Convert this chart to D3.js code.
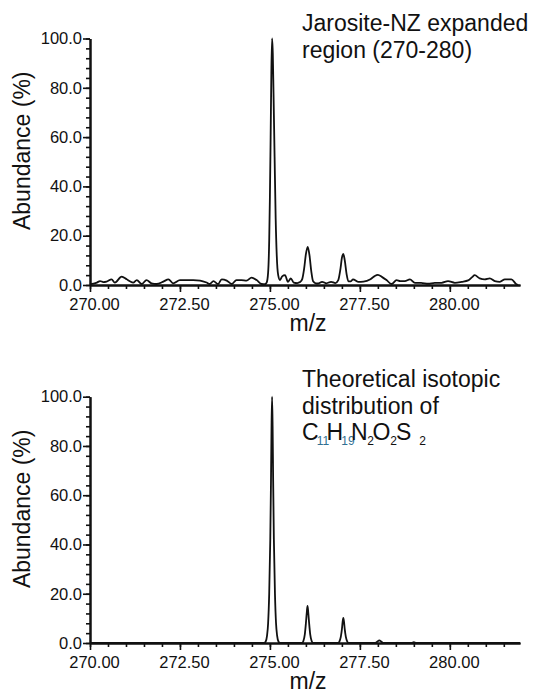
<!DOCTYPE html>
<html>
<head>
<meta charset="utf-8">
<script src="https://cdn.jsdelivr.net/npm/d3@7"></script>
<style>
  body { margin: 0; background: #fff; }
  text { font-family: "Liberation Sans", Arial, Helvetica, sans-serif; fill: #111; }
</style>
</head>
<body>
<div id="chart"></div>
<script>
// Measured spectrum (top panel)
const measuredMz = [
  270.00, 270.10, 270.19, 270.28, 270.37, 270.46, 270.60, 270.69, 270.88, 271.02,
  271.12, 271.20, 271.30, 271.44, 271.57, 271.71, 271.85, 272.04, 272.18, 272.31,
  272.50, 272.69, 272.87, 273.06, 273.24, 273.33, 273.43, 273.56, 273.66, 273.80,
  273.94, 274.07, 274.21, 274.35, 274.49, 274.63, 274.77, 274.86, 274.91, 274.95,
  274.98, 275.00, 275.02, 275.04, 275.06, 275.08, 275.10, 275.13, 275.16, 275.19,
  275.23, 275.28, 275.34, 275.42, 275.50, 275.58, 275.66, 275.76, 275.84, 275.90,
  275.95, 276.00, 276.05, 276.10, 276.15, 276.20, 276.27, 276.33, 276.45, 276.57,
  276.70, 276.82, 276.90, 276.96, 277.00, 277.04, 277.08, 277.13, 277.18, 277.25,
  277.31, 277.45, 277.60, 277.78, 277.90, 278.00, 278.12, 278.24, 278.38, 278.52,
  278.62, 278.75, 278.89, 279.03, 279.20, 279.40, 279.58, 279.77, 279.95, 280.14,
  280.33, 280.51, 280.62, 280.69, 280.83, 280.97, 281.11, 281.25, 281.39, 281.53,
  281.71, 281.85, 281.90
];
const measuredAbundance = [
  0.3, 0.6, 1.0, 1.6, 1.2, 1.4, 2.3, 1.0, 3.4, 2.3,
  1.4, 1.0, 2.0, 0.4, 2.0, 0.7, 0.4, 1.4, 2.3, 0.7,
  2.0, 2.0, 2.0, 1.8, 1.0, 0.4, 1.6, 0.4, 2.3, 1.8,
  0.4, 2.0, 2.0, 1.8, 3.0, 2.0, 0.4, 0.3, 1.0, 5.0,
  18, 36, 60, 86, 100, 94, 78, 52, 27, 12,
  4.0, 2.0, 3.5, 4.0, 1.3, 2.7, 1.0, 0.8, 1.2, 2.5,
  6.5, 12.5, 15.5, 12, 5.5, 1.5, 0.7, 0.6, 1.3, 0.7,
  1.3, 0.8, 2.0, 6.5, 11, 12.6, 10, 4.5, 1.5, 1.5,
  2.3, 1.3, 1.4, 2.2, 3.5, 4.1, 3.2, 2.0, 0.4, 2.0,
  1.6, 1.6, 2.3, 0.9, 0.9, 0.5, 0.9, 0.9, 1.6, 0.9,
  1.3, 1.9, 3.2, 4.0, 2.7, 2.3, 2.7, 1.6, 1.3, 2.3,
  2.3, 0.3, 0.0
];

// Theoretical isotopic distribution (bottom panel)
const theoreticalMz = [
  270.00, 274.84, 274.88, 274.92, 274.95, 274.98, 275.01, 275.03, 275.045, 275.06,
  275.075, 275.09, 275.11, 275.14, 275.17, 275.20, 275.24, 275.28,
  275.90, 275.93, 275.97, 276.00, 276.025, 276.045, 276.065, 276.09, 276.12, 276.16, 276.20,
  276.90, 276.93, 276.97, 277.00, 277.02, 277.04, 277.06, 277.08, 277.11, 277.15, 277.19,
  277.92, 277.98, 278.04, 278.10, 278.16,
  278.94, 279.00, 279.06, 281.95
];
const theoreticalAbundance = [
  0, 0, 0.5, 3, 8, 20, 42, 66, 88, 100,
  88, 66, 42, 20, 8, 3, 0.5, 0,
  0, 0.8, 3.5, 8, 12.5, 15.1, 12.5, 8, 3.5, 0.8, 0,
  0, 0.6, 2.5, 5.5, 8.5, 10.2, 8.5, 5.5, 2.5, 0.6, 0,
  0, 0.5, 1.1, 0.5, 0,
  0, 0.3, 0, 0
];

// Axis ticks
const xTickValues = [270, 272.5, 275, 277.5, 280];
const xMinorTicks = d3.range(270, 282, 0.5);
const yTickValues = [0, 20, 40, 60, 80, 100];
const yMinorTicks = d3.range(0, 101, 4);
const xDomain = [270, 281.95];

const width = 533;
const height = 694;

const svg = d3.select("#chart").append("svg").attr("width", width).attr("height", height);

const x = d3.scaleLinear().domain(xDomain).range([90, 520]);

drawPanel(measuredMz, measuredAbundance, [285, 38.5]);
drawPanel(theoreticalMz, theoreticalAbundance, [643, 396.7]);

// Panel notes
addNote(302, 31, ["Jarosite-NZ expanded", "region (270-280)"]);
addNote(302, 387, ["Theoretical isotopic", "distribution of"]);
addFormula(302, 440);

// Draw one spectrum panel
function drawPanel(mz, abundance, yRange) {
  const y = d3.scaleLinear().domain([0, 100]).range(yRange);
  const g = svg.append("g");
  const base = yRange[0];

  // minor ticks
  g.append("g")
    .attr("transform", `translate(0,${base})`)
    .call(d3.axisBottom(x).tickValues(xMinorTicks).tickSize(4).tickSizeOuter(0).tickFormat(""))
    .call(styleAxis);
  g.append("g")
    .attr("transform", `translate(${x(xDomain[0])},0)`)
    .call(d3.axisLeft(y).tickValues(yMinorTicks).tickSize(4).tickSizeOuter(0).tickFormat(""))
    .call(styleAxis);

  // major ticks with labels
  const xAxis = g.append("g")
    .attr("transform", `translate(0,${base})`)
    .call(d3.axisBottom(x).tickValues(xTickValues).tickSize(7).tickSizeOuter(0).tickPadding(6).tickFormat(d3.format(".2f")))
    .call(styleAxis);
  xAxis.selectAll("text").attr("dx", 4);

  g.append("g")
    .attr("transform", `translate(${x(xDomain[0])},0)`)
    .call(d3.axisLeft(y).tickValues(yTickValues).tickSize(7).tickSizeOuter(0).tickPadding(1).tickFormat(d3.format(".1f")))
    .call(styleAxis);

  // spectrum line
  const points = mz.map((m, i) => [m, abundance[i]]);
  const line = d3.line()
    .x((d) => x(d[0]))
    .y((d) => y(d[1]))
    .curve(d3.curveMonotoneX);

  g.append("path")
    .datum(points)
    .attr("d", line)
    .attr("fill", "none")
    .attr("stroke", "#111")
    .attr("stroke-width", 1.8)
    .attr("stroke-linejoin", "round");

  // axis titles
  g.append("text")
    .attr("x", (x.range()[0] + x.range()[1]) / 2 + 3)
    .attr("y", base + 46)
    .attr("text-anchor", "middle")
    .style("font-size", "23px")
    .text("m/z");

  g.append("text")
    .attr("transform", `translate(30,${(yRange[0] + yRange[1]) / 2 - 11}) rotate(-90)`)
    .attr("text-anchor", "middle")
    .style("font-size", "23px")
    .text("Abundance (%)");
}

function styleAxis(sel) {
  sel.select(".domain").attr("stroke", "#111").attr("stroke-width", 2);
  sel.selectAll(".tick line").attr("stroke", "#111").attr("stroke-width", 1.6);
  sel.selectAll(".tick text")
    .style("font-size", "16.5px")
    .style("font-family", '"Liberation Sans", Arial, sans-serif')
    .attr("fill", "#111");
}

function addNote(x0, y0, lines) {
  const t = svg.append("text").attr("x", x0).attr("y", y0).style("font-size", "23px");
  lines.forEach((l, i) => {
    t.append("tspan").attr("x", x0).attr("dy", i === 0 ? 0 : 26.5).text(l);
  });
}

// C11H19N2O2S2 with subscripts
function addFormula(x0, y0) {
  const parts = [
    { s: "C", dx: 0 },
    { s: "11", sub: true, dx: -2, color: "#2f6f93" },
    { s: "H", dx: -2.5 },
    { s: "19", sub: true, dx: -2, color: "#2f6f93" },
    { s: "N", dx: -3.5 },
    { s: "2", sub: true, dx: -0.5 },
    { s: "O", dx: -1.5 },
    { s: "2", sub: true, dx: 0 },
    { s: "S", dx: -1 },
    { s: "2", sub: true, dx: 8 }
  ];
  const t = svg.append("text").attr("x", x0).attr("y", y0).style("font-size", "23px");
  let shifted = false;
  parts.forEach((p) => {
    const ts = t.append("tspan").attr("dx", p.dx).text(p.s);
    if (p.sub && !shifted) { ts.attr("dy", 5); shifted = true; }
    if (!p.sub && shifted) { ts.attr("dy", -5); shifted = false; }
    if (p.sub) ts.style("font-size", "12px");
    if (p.color) ts.attr("fill", p.color);
  });
}
</script>
</body>
</html>
